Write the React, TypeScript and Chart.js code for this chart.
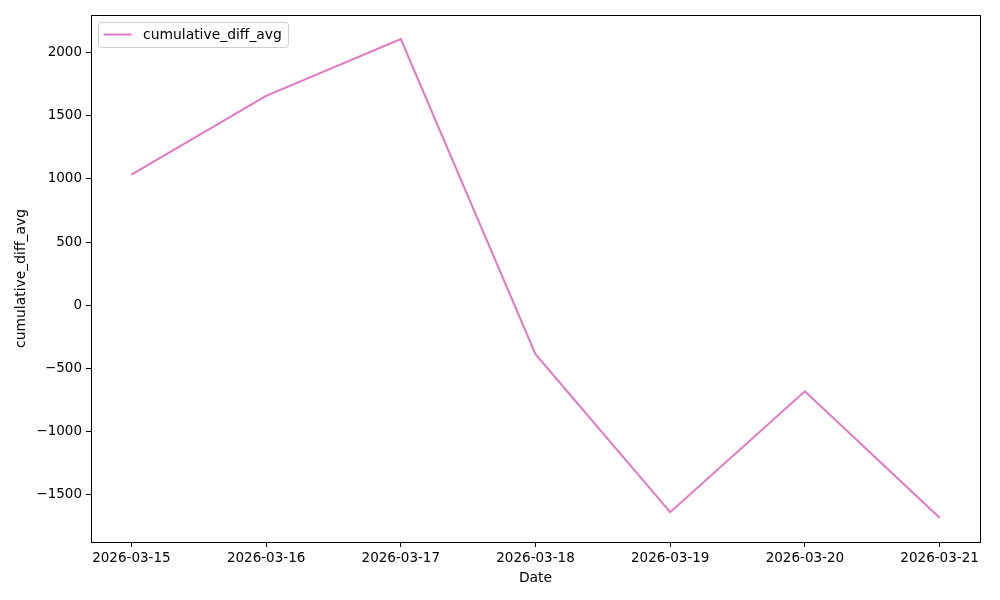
import React, { useEffect, useRef } from "react";
import { Chart, registerables } from "chart.js";

Chart.register(...registerables);

const dates = ["2026-03-15", "2026-03-16", "2026-03-17", "2026-03-18", "2026-03-19", "2026-03-20", "2026-03-21"];
const cumulativeDiffAvg = [1035, 1659, 2110, -390, -1643, -684, -1688];
const yTickValues = [-1500, -1000, -500, 0, 500, 1000, 1500, 2000];
const seriesLabel = "cumulative_diff_avg";
const xTitle = "Date";
const yTitle = "cumulative_diff_avg";
const lineColor = "#e377c2";
const FONT = "'DejaVu Sans', sans-serif";
const FONT_SIZE = 13.9;
const TICK_FONT_SIZE = 13.5;

const framePlugin = {
  id: "frame",
  afterDatasetsDraw(chart: any) {
    const { ctx, chartArea: a } = chart;
    ctx.save();
    ctx.strokeStyle = "#000";
    ctx.lineWidth = 1;
    ctx.strokeRect(Math.round(a.left) + 0.5, Math.round(a.top) + 0.5, Math.round(a.right - a.left), Math.round(a.bottom - a.top));
    ctx.restore();
  },
};

const legendPlugin = {
  id: "mplLegend",
  afterDraw(chart: any) {
    const { ctx, chartArea: a } = chart;
    const ds = chart.data.datasets[0];
    const x0 = a.left + 7.5;
    const y0 = a.top + 7.5;
    ctx.save();
    ctx.font = `${FONT_SIZE}px ${FONT}`;
    const tw = ctx.measureText(ds.label).width;
    const w = 44 + tw + 7;
    const h = 25;
    ctx.beginPath();
    (ctx as any).roundRect(x0, y0, w, h, 3);
    ctx.fillStyle = "rgba(255,255,255,0.8)";
    ctx.fill();
    ctx.strokeStyle = "#cccccc";
    ctx.lineWidth = 1;
    ctx.stroke();
    ctx.beginPath();
    ctx.moveTo(x0 + 5, y0 + 12);
    ctx.lineTo(x0 + 33, y0 + 12);
    ctx.strokeStyle = ds.borderColor;
    ctx.lineWidth = 2;
    ctx.stroke();
    ctx.fillStyle = "#000";
    ctx.textBaseline = "middle";
    ctx.textAlign = "left";
    ctx.fillText(ds.label, x0 + 44.5, y0 + 12.5);
    ctx.restore();
  },
};

export default function App() {
  const ref = useRef<HTMLCanvasElement | null>(null);
  useEffect(() => {
    const canvas = ref.current!;
    const chart = new Chart(canvas, {
      type: "line",
      data: {
        datasets: [
          {
            label: seriesLabel,
            data: cumulativeDiffAvg.map((v, i) => ({ x: i, y: v })),
            borderColor: lineColor,
            backgroundColor: lineColor,
            borderWidth: 2,
            pointRadius: 0,
            tension: 0,
            fill: false,
          },
        ],
      },
      options: {
        responsive: false,
        animation: false,
        devicePixelRatio: 1,
        layout: { padding: { top: 15, right: 20, left: 0, bottom: 0 } },
        plugins: { legend: { display: false }, tooltip: { enabled: false } },
        scales: {
          x: {
            type: "linear",
            min: -0.3,
            max: 6.3,
            afterBuildTicks: (s: any) => {
              s.ticks = dates.map((_, i) => ({ value: i }));
            },
            afterFit: (s: any) => {
              s.height = 58;
            },
            grid: { drawOnChartArea: false, drawTicks: true, tickLength: 5, color: "#000", lineWidth: 1 },
            border: { display: false },
            ticks: {
              color: "#000",
              font: { family: FONT, size: TICK_FONT_SIZE },
              padding: 3,
              maxRotation: 0,
              autoSkip: false,
              callback: (v: any) => dates[Math.round(v)] ?? "",
            },
            title: {
              display: true,
              text: xTitle,
              color: "#000",
              font: { family: FONT, size: FONT_SIZE },
              padding: { top: 2, bottom: 13 },
            },
          },
          y: {
            type: "linear",
            min: -1880,
            max: 2301,
            afterBuildTicks: (s: any) => {
              s.ticks = yTickValues.map((v) => ({ value: v }));
            },
            afterFit: (s: any) => {
              s.width = 91;
            },
            grid: { drawOnChartArea: false, drawTicks: true, tickLength: 5, color: "#000", lineWidth: 1 },
            border: { display: false },
            ticks: {
              color: "#000",
              font: { family: FONT, size: TICK_FONT_SIZE },
              padding: 4,
              callback: (v: any) => (v < 0 ? "\u2212" + Math.abs(v) : String(v)),
            },
            title: {
              display: true,
              text: yTitle,
              color: "#000",
              font: { family: FONT, size: FONT_SIZE },
              padding: { top: 13, bottom: 0 },
            },
          },
        },
      },
      plugins: [framePlugin, legendPlugin],
    } as any);
    return () => chart.destroy();
  }, []);
  return (
    <div style={{ position: "absolute", left: 0, top: 0, width: 1000, height: 600, background: "#fff" }}>
      <canvas ref={ref} width={1000} height={600} />
    </div>
  );
}
